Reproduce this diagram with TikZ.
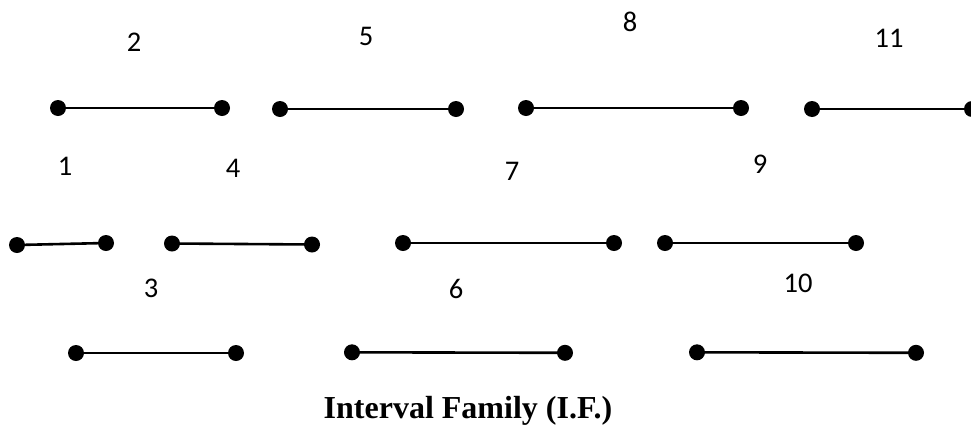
\documentclass[tikz,border=0pt]{standalone}
\usepackage{fontspec}
\newfontfamily\labelfont{Carlito}
\newfontfamily\titlefont{Liberation Serif}
\tikzset{
  dot/.style={circle, fill=black, draw=none, minimum size=16pt, inner sep=0pt},
  seg/.style={line width=2.6pt, black},
  lab/.style={inner sep=0pt, font=\labelfont\fontsize{28.5}{33}\selectfont},
  ttl/.style={inner sep=0pt, anchor=base, font=\titlefont\bfseries\fontsize{32}{36}\selectfont}
}
\begin{document}
\begin{tikzpicture}[x=1pt, y=-1pt]
\useasboundingbox (0,0) rectangle (971,429);
% row 1
\node[dot] (a2) at (58,108) {};   \node[dot] (b2) at (222,108) {};
\node[dot] (a5) at (280,109) {};  \node[dot] (b5) at (456,109) {};
\node[dot] (a8) at (526,108) {};  \node[dot] (b8) at (741,108) {};
\node[dot] (a11) at (812,109) {}; \node[dot] (b11) at (972,109) {};
% row 2
\node[dot] (a1) at (17,245) {};   \node[dot] (b1) at (106,243) {};
\node[dot] (a4) at (172,243.5) {};  \node[dot] (b4) at (312,244.5) {};
\node[dot] (a7) at (403,243) {};  \node[dot] (b7) at (614,243) {};
\node[dot] (a9) at (665,243) {};  \node[dot] (b9) at (856,243) {};
% row 3
\node[dot] (a3) at (76,353) {};   \node[dot] (b3) at (236,353) {};
\node[dot] (a6) at (352,352.3) {};  \node[dot] (b6) at (565,352.8) {};
\node[dot] (a10) at (697,352.3) {}; \node[dot] (b10) at (916,352.8) {};
% segments
\foreach \i in {1,...,11} { \draw[seg] (a\i.center) -- (b\i.center); }
% labels
\node[lab] (l2) at (134,42) {2};
\node[lab] (l5) at (366,36) {5};
\node[lab] (l8) at (630,22) {8};
\node[lab] (l11) at (889,38) {11};
\node[lab] (l1) at (65,166) {1};
\node[lab] (l4) at (233,168) {4};
\node[lab] (l7) at (512,171) {7};
\node[lab] (l9) at (760,164) {9};
\node[lab] (l3) at (151,288) {3};
\node[lab] (l6) at (456,289) {6};
\node[lab] (l10) at (798,283) {10};
% title
\node[ttl] (title) at (468,418) {Interval Family (I.F.)};
\end{tikzpicture}
\end{document}
